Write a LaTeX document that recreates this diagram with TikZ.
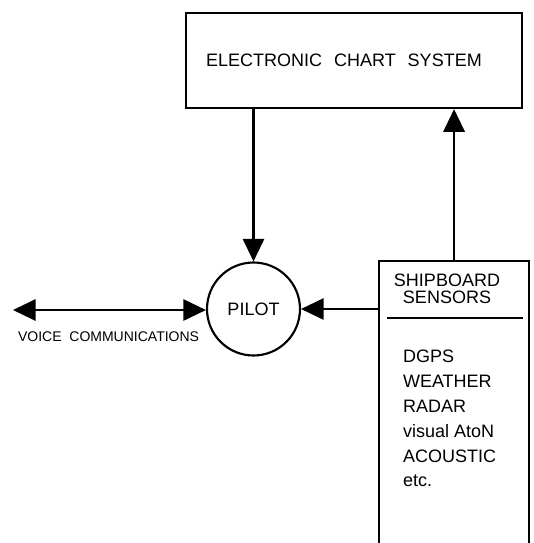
\documentclass[tikz,border=0pt]{standalone}
\usepackage{fontspec}
\setmainfont{Liberation Sans}
\usetikzlibrary{positioning, arrows.meta}

\begin{document}
\begin{tikzpicture}[x=0.75pt, y=-0.75pt, line width=1.6pt,
    >={Triangle[length=17pt, width=16pt]},
    bigtext/.style={font=\fontsize{13.5}{12.5}\selectfont},
    smalltext/.style={font=\fontsize{10.5}{12}\selectfont}]
    \useasboundingbox (0,0) rectangle (533,543);

    \node[draw, rectangle, bigtext, anchor=north west, text width=222pt, inner xsep=15pt,
          minimum height=71.25pt, align=left] (ecs) at (185,12) {ELECTRONIC\ \ CHART\ \ SYSTEM};
    \node[draw, circle, bigtext, minimum size=69.75pt, inner sep=0pt] (pilot) at (253.5,309) {PILOT};
    \node[draw, rectangle, anchor=north west, minimum width=112.5pt, minimum height=225pt,
          inner sep=0pt] (sensors) at (378,260) {};

    \node[bigtext, align=center] (sensorshead) at (447,289) {SHIPBOARD\\SENSORS};
    \draw (387,318) -- (523,318);
    \foreach \name/\txt [count=\i] in {dgps/DGPS, weather/WEATHER, radar/RADAR,
                                       aton/visual AtoN, acoustic/ACOUSTIC, etc/etc.}
        \node[bigtext, anchor=west, inner sep=0pt] (\name) at (402,331+25*\i) {\txt};

    \coordinate (voice) at (13,310);
    \node[smalltext, anchor=west, inner sep=0pt] (voicelabel) at (17,337) {VOICE\ \ COMMUNICATIONS};

    \draw[->] (ecs.south -| pilot.north) -- (pilot.north);
    \draw[->] (sensors.north) -- (sensors.north |- ecs.south);
    \draw[->] (sensors.west |- pilot.east) -- (pilot.east);
    \draw[<->] (voice) -- (voice -| pilot.west);
\end{tikzpicture}
\end{document}
